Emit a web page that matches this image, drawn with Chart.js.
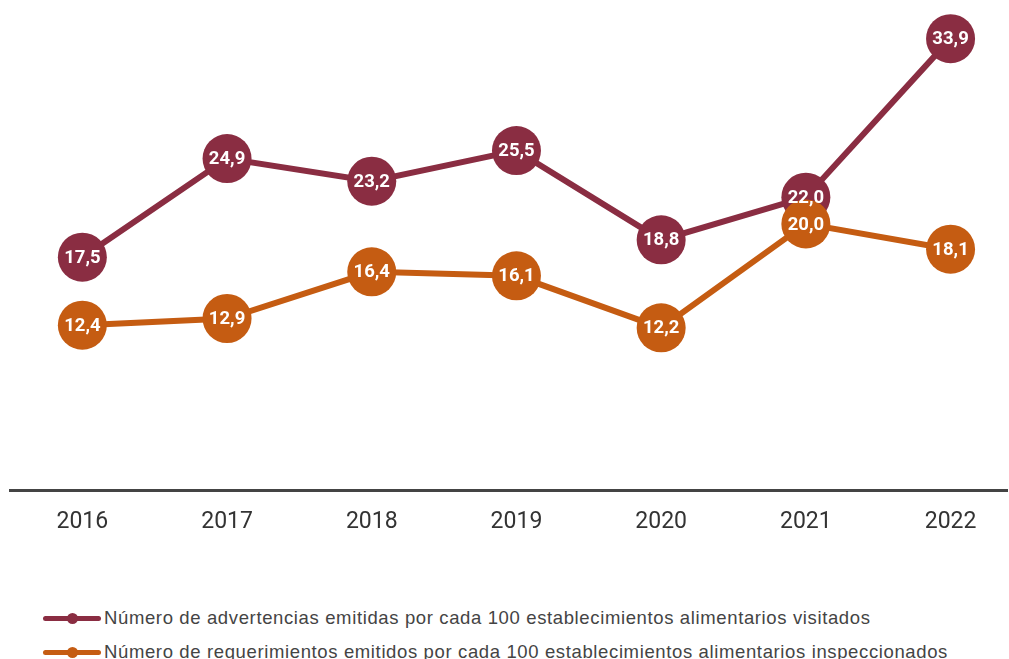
<!DOCTYPE html>
<html>
<head>
<meta charset="utf-8">
<script src="https://cdn.jsdelivr.net/npm/chart.js@4"></script>
<style>
  html, body { margin: 0; padding: 0; background: #fff; overflow: hidden; }
  #wrap { position: relative; width: 1009px; height: 554px; }
  #legend { position: absolute; left: 43px; top: 601px; font-family: "Liberation Sans", Arial, sans-serif; font-size: 18.5px; letter-spacing: 0.63px; color: #444; }
  .item { display: flex; align-items: center; height: 34px; }
  .mark { position: relative; width: 58px; height: 5px; border-radius: 3px; margin-right: 3px; }
  .mark span { position: absolute; left: 24px; top: -3px; width: 11px; height: 11px; border-radius: 50%; background: inherit; }
</style>
</head>
<body>
<div id="wrap"><canvas id="chart" width="1009" height="554"></canvas></div>
<div id="legend"></div>
<script>
const years = [2016, 2017, 2018, 2019, 2020, 2021, 2022];
const advertencias = [17.5, 24.9, 23.2, 25.5, 18.8, 22.0, 33.9];
const requerimientos = [12.4, 12.9, 16.4, 16.1, 12.2, 20.0, 18.1];
const seriesNames = [
  'Número de advertencias emitidas por cada 100 establecimientos alimentarios visitados',
  'Número de requerimientos emitidos por cada 100 establecimientos alimentarios inspeccionados'
];
const colors = ['#8a2d42', '#c55c12'];

const toPoints = vals => vals.map((v, i) => ({ x: years[i], y: v }));
const fmt = v => v.toFixed(1).replace('.', ',');

// white value text centred inside each marker
const valueLabels = {
  id: 'valueLabels',
  afterDatasetsDraw(chart) {
    const ctx = chart.ctx;
    ctx.save();
    ctx.font = 'bold 18.5px Roboto, sans-serif';
    ctx.fillStyle = '#fff';
    ctx.textAlign = 'center';
    ctx.textBaseline = 'middle';
    chart.data.datasets.forEach((ds, di) => {
      chart.getDatasetMeta(di).data.forEach((pt, i) => {
        ctx.fillText(fmt(ds.data[i].y), pt.x, pt.y + 1);
      });
    });
    ctx.restore();
  }
};

new Chart(document.getElementById('chart'), {
  type: 'line',
  data: {
    datasets: [
      { label: seriesNames[0], data: toPoints(advertencias), borderColor: colors[0], backgroundColor: colors[0], order: 1 },
      { label: seriesNames[1], data: toPoints(requerimientos), borderColor: colors[1], backgroundColor: colors[1], order: 0 }
    ]
  },
  options: {
    responsive: false,
    animation: false,
    clip: false,
    layout: { autoPadding: false, padding: { left: 10, right: 2, top: 0, bottom: 0 } },
    elements: {
      line: { borderWidth: 6, tension: 0 },
      point: { radius: 24.5, borderWidth: 0, hoverRadius: 24.5 }
    },
    plugins: { legend: { display: false }, tooltip: { enabled: false } },
    scales: {
      x: {
        type: 'linear',
        min: 2015.5,
        max: 2022.39,
        afterBuildTicks: axis => { axis.ticks = years.map(y => ({ value: y })); },
        grid: { display: false, drawTicks: false },
        border: { color: '#444', width: 3 },
        ticks: { color: '#333', font: { family: 'Roboto, sans-serif', size: 23 }, padding: 18, callback: v => String(v) }
      },
      y: {
        display: false,
        min: 0,
        max: 36.8
      }
    }
  },
  plugins: [valueLabels]
});

const legend = document.getElementById('legend');
seriesNames.forEach((name, i) => {
  const row = document.createElement('div');
  row.className = 'item';
  row.innerHTML = '<div class="mark" style="background:' + colors[i] + '"><span></span></div><div>' + name + '</div>';
  legend.appendChild(row);
});
</script>
</body>
</html>
